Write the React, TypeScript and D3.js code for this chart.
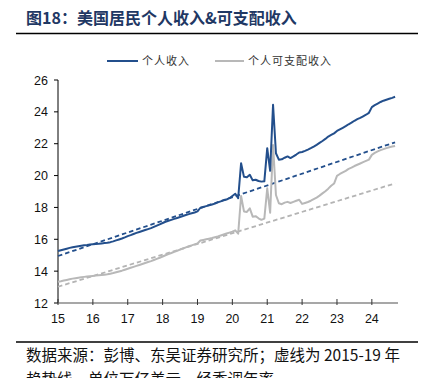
import React from "react";
import * as d3 from "d3";

const personalIncome = [
  15.26, 15.31, 15.36, 15.41, 15.46, 15.5, 15.53, 15.56, 15.59, 15.62, 15.64, 15.67,
  15.69, 15.71, 15.72, 15.74, 15.76, 15.78, 15.82, 15.87, 15.93, 15.99, 16.05, 16.12,
  16.2, 16.26, 16.33, 16.4, 16.46, 16.52, 16.58, 16.64, 16.7, 16.78, 16.86, 16.94,
  17.02, 17.1, 17.16, 17.22, 17.28, 17.34, 17.4, 17.46, 17.52, 17.58, 17.63, 17.68,
  17.75, 17.98, 18.03, 18.08, 18.13, 18.18, 18.24, 18.32, 18.38, 18.44, 18.5, 18.58,
  18.72, 18.86, 18.58, 20.77, 19.92, 19.9, 20.05, 19.7, 19.74, 19.66, 19.62, 19.64,
  21.72, 20.3, 24.45, 21.4, 21.0, 21.02, 21.12, 21.2, 21.1, 21.2, 21.32, 21.45,
  21.48, 21.55, 21.63, 21.72, 21.82, 21.93, 22.05, 22.17, 22.3, 22.45, 22.55, 22.65,
  22.8, 22.9, 23.0, 23.1, 23.22, 23.32, 23.44, 23.54, 23.62, 23.72, 23.82, 23.94,
  24.3, 24.42, 24.52, 24.62, 24.7, 24.76, 24.82, 24.88, 24.95,
];
const disposableIncome = [
  13.34, 13.37, 13.41, 13.45, 13.49, 13.53, 13.56, 13.59, 13.62, 13.64, 13.66, 13.68,
  13.7, 13.72, 13.74, 13.76, 13.78, 13.8, 13.84, 13.88, 13.93, 13.98, 14.03, 14.09,
  14.15, 14.21, 14.27, 14.33, 14.39, 14.45, 14.51, 14.57, 14.63, 14.7, 14.77, 14.84,
  14.92, 15.0, 15.07, 15.14, 15.21, 15.28, 15.35, 15.42, 15.49, 15.56, 15.62, 15.68,
  15.74, 15.92, 15.96, 16.0, 16.04, 16.08, 16.13, 16.18, 16.24, 16.3, 16.36, 16.42,
  16.48, 16.56, 16.35, 18.72, 17.75, 17.72, 17.94, 17.42, 17.45, 17.32, 17.22, 17.3,
  19.2, 17.67, 21.92, 18.78, 18.26, 18.2, 18.3, 18.35, 18.28, 18.35, 18.42, 18.48,
  18.22, 18.28, 18.34, 18.42, 18.52, 18.62, 18.74, 18.88, 19.02, 19.18, 19.36, 19.5,
  19.98, 20.1, 20.2, 20.3, 20.42, 20.5, 20.6, 20.68, 20.76, 20.84, 20.92, 21.0,
  21.3, 21.42, 21.52, 21.6, 21.66, 21.72, 21.78, 21.82, 21.86,
];
// 2015-19 trend lines: [value at first month, value at last month]
const incomeTrend = [14.95, 22.09];
const disposableTrend = [13.02, 19.51];
const xTickLabels = ["15", "16", "17", "18", "19", "20", "21", "22", "23", "24"];
const yTicks = [12, 14, 16, 18, 20, 22, 24, 26];
const legendLabels = ["个人收入", "个人可支配收入"];

const BLUE = "#234f8c";
const GRAY = "#b8b8b8";
const GRAY_DASH = "#b4b4b4";
const CJK = "'Noto Sans CJK SC', sans-serif";

export default function App() {
  const left = 58, right = 398, top = 80, bottom = 303;
  const x = d3.scaleLinear().domain([0, 9.75]).range([left, right]);
  const y = d3.scaleLinear().domain([12, 26]).range([bottom, top]);
  const mx = (i: number) => x(i / 12);
  const n = personalIncome.length;
  const line = d3.line<number>().x((_, i) => mx(i)).y((d) => y(d));
  const trendLine = (t: number[]) =>
    d3.line<number>().x((_, i) => mx(i * (n - 1))).y((d) => y(d))(t) as string;

  return (
    <svg width={432} height={378} style={{ position: "absolute", left: 0, top: 0, background: "#fff" }}>
      <text x={26} y={24} fontFamily={CJK} fontWeight={700} fontSize={16} fill="#1f3864">
        图18：美国居民个人收入&可支配收入
      </text>
      <line x1={16} x2={418} y1={33.5} y2={33.5} stroke="#000" strokeWidth={1.6} />

      {/* legend */}
      <line x1={107} x2={138} y1={61} y2={61} stroke={BLUE} strokeWidth={2} />
      <text x={142} y={65} fontFamily={CJK} fontSize={11} fill="#333" letterSpacing={1}>{legendLabels[0]}</text>
      <line x1={215} x2={244} y1={61} y2={61} stroke={GRAY} strokeWidth={2} />
      <text x={248} y={65} fontFamily={CJK} fontSize={11} fill="#333" letterSpacing={1}>{legendLabels[1]}</text>

      {/* y axis */}
      <line x1={left} x2={left} y1={top} y2={bottom} stroke="#000" strokeWidth={1} />
      {yTicks.map((t) => (
        <g key={t}>
          <line x1={left - 4} x2={left} y1={y(t)} y2={y(t)} stroke="#000" />
          <text x={48} y={y(t) + 4.5} textAnchor="end" fontFamily="Arial, 'Liberation Sans', sans-serif" fontSize={12.5} fill="#111">
            {t}
          </text>
        </g>
      ))}

      {/* x axis */}
      <line x1={left} x2={right} y1={bottom} y2={bottom} stroke="#8a8a8a" strokeWidth={1.5} />
      {xTickLabels.map((l, i) => (
        <g key={l}>
          <line x1={x(i)} x2={x(i)} y1={bottom - 4} y2={bottom + 2} stroke="#333" />
          <text x={x(i)} y={323} textAnchor="middle" fontFamily="Arial, 'Liberation Sans', sans-serif" fontSize={12.5} fill="#111">
            {l}
          </text>
        </g>
      ))}

      {/* trend lines */}
      <path d={trendLine(disposableTrend)} fill="none" stroke={GRAY_DASH} strokeWidth={1.8} strokeDasharray="4.5,3" />
      <path d={trendLine(incomeTrend)} fill="none" stroke={BLUE} strokeWidth={1.8} strokeDasharray="4.5,3" />

      {/* series */}
      <path d={line(disposableIncome) as string} fill="none" stroke={GRAY} strokeWidth={2} strokeLinejoin="round" />
      <path d={line(personalIncome) as string} fill="none" stroke={BLUE} strokeWidth={2} strokeLinejoin="round" />

      <line x1={16} x2={418} y1={342} y2={342} stroke="#000" strokeWidth={1.6} />
      <text x={26} y={361} fontFamily={CJK} fontSize={15.5} fill="#111">
        数据来源：彭博、东吴证券研究所；虚线为 2015-19 年
      </text>
      <text x={26} y={385} fontFamily={CJK} fontSize={15.5} fill="#111">
        趋势线，单位万亿美元，经季调年率
      </text>
    </svg>
  );
}
